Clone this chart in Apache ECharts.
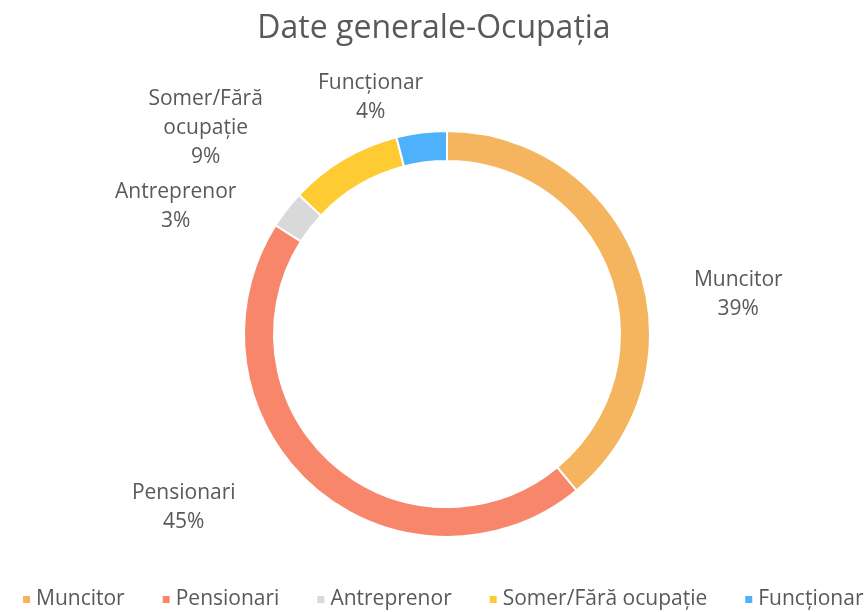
<!DOCTYPE html>
<html>
<head>
<meta charset="utf-8">
<script src="https://cdn.jsdelivr.net/npm/echarts@6/dist/echarts.min.js"></script>
<style>
  html, body { margin: 0; padding: 0; background: #fff; }
  #chart { width: 868px; height: 612px; }
</style>
</head>
<body>
<div id="chart"></div>
<script>
    // categories and shares (percent)
    let categories = ['Muncitor', 'Pensionari', 'Antreprenor', 'Somer/Fără ocupație', 'Funcționar']
    let labelNames = ['Muncitor', 'Pensionari', 'Antreprenor', 'Somer/Fără\nocupație', 'Funcționar']
    let values = [39, 45, 3, 9, 4]
    let colors = ['#F4B55E', '#F8866A', '#D9D9D9', '#FFCB33', '#4DB2FB']

    // small label nudges (px) so the labels sit where the original placed them
    const labelNudge = [[-7, 41], [-24, -5], [36, -40], [16, -44], [36, 0]]

    let seriesData = []
    for (let i = 0; i < categories.length; i++) {
        seriesData.push({
            name: categories[i],
            value: values[i],
            itemStyle: { color: colors[i] }
        })
    }

    let myChart = echarts.init(document.getElementById('chart'))
    const option = {
        textStyle: { fontFamily: 'Open Sans' },
        title: {
            text: 'Date generale-Ocupația',
            left: 'center',
            top: 8,
            textStyle: { fontSize: 32, fontWeight: 'normal', color: '#595959', fontFamily: 'Open Sans' }
        },
        legend: {
            bottom: -3,
            left: 16,
            width: 860,
            icon: 'rect',
            itemWidth: 9,
            itemHeight: 9,
            itemGap: 36,
            textStyle: { fontSize: 21, color: '#595959' },
            data: categories
        },
        series: [
            {
                name: 'Ocupatia',
                type: 'pie',
                center: [447, 334],
                radius: [173, 203],
                startAngle: 90,
                clockwise: true,
                itemStyle: { borderColor: '#fff', borderWidth: 2 },
                label: {
                    show: true,
                    position: 'outside',
                    fontSize: 21,
                    color: '#595959',
                    lineHeight: 29,
                    formatter: function (p) {
                        return labelNames[p.dataIndex] + '\n' + p.value + '%'
                    }
                },
                labelLine: { show: false, length: 35, length2: 25 },
                // centre every line of a label on its block, like the original
                labelLayout: function (params) {
                    let r = params.labelRect
                    let n = labelNudge[params.dataIndex]
                    return {
                        x: r.x + r.width / 2 + n[0],
                        y: r.y + r.height / 2 + n[1],
                        align: 'center',
                        verticalAlign: 'middle'
                    }
                },
                emphasis: { scale: false },
                data: seriesData
            }
        ]
    }
    myChart.setOption(option)
</script>
</body>
</html>
